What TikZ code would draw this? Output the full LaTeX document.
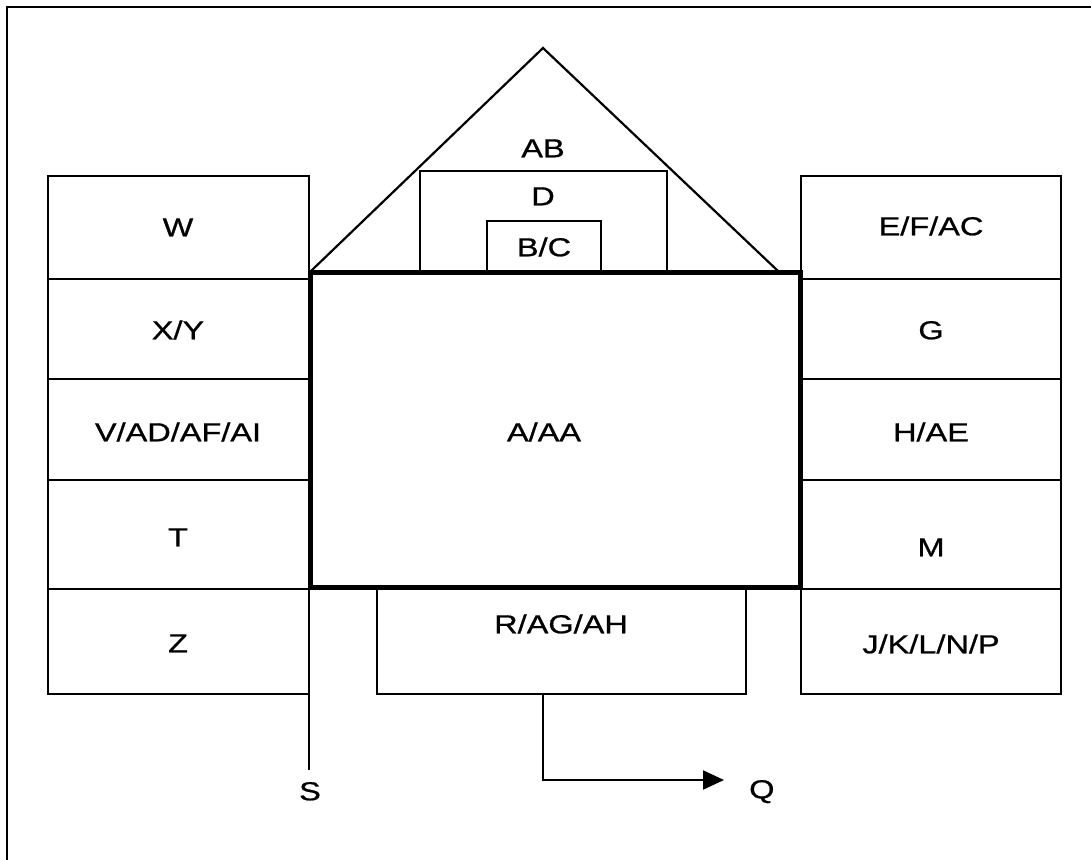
\documentclass[tikz,border=0pt]{standalone}
\usepackage{fontspec}
\setmainfont{Liberation Sans}[FakeStretch=1.25, FakeBold=0.8]
\usetikzlibrary{arrows.meta,calc}

\begin{document}
\begin{tikzpicture}[x=1pt, y=-1pt,
    box/.style={draw, line width=2.2pt},
    thickbox/.style={draw, line width=5pt},
    lbl/.style={font=\fontsize{26}{30}\selectfont, inner sep=0pt, text height=18.5pt, text depth=0pt}]
    \useasboundingbox(0,0)rectangle(1091,859);

    % frame
    \path[draw, line width=2.6pt](7,870)to(7,7)to(1100,7);

    % left column
    \path[box](48,176)rectangle(309,279);
    \path[box](48,279)rectangle(309,379);
    \path[box](48,379)rectangle(309,480);
    \path[box](48,480)rectangle(309,589);
    \path[box](48,589)rectangle(309,694);
    \node[lbl](W)at(178,227){W};
    \node[lbl](XY)at(178,330){X/Y};
    \node[lbl](VAD)at(178,432){V/AD/AF/AI};
    \node[lbl](T)at(178,537){T};
    \node[lbl](Z)at(178,643){Z};

    % right column
    \path[box](801,176)rectangle(1061,279);
    \path[box](801,279)rectangle(1061,379);
    \path[box](801,379)rectangle(1061,480);
    \path[box](801,480)rectangle(1061,589);
    \path[box](801,589)rectangle(1061,694);
    \node[lbl](EFAC)at(931,226){E/F/AC};
    \node[lbl](G)at(931,330){G};
    \node[lbl](HAE)at(931,432){H/AE};
    \node[lbl](M)at(931,547){M};
    \node[lbl](JKL)at(931,644){J/K/L/N/P};

    % roof
    \coordinate(RL)at(311,271);
    \coordinate(RT)at(543,48);
    \coordinate(RR)at(778,271);
    \path[draw, line width=2.2pt](RL)to(RT)to(RR);
    \node[lbl](AB)at(543,148){AB};
    \path[box](420,171)rectangle(667,272);
    \node[lbl](D)at(543,196){D};
    \path[box](487,221)rectangle(601,272);
    \node[lbl](BC)at(544,247){B/C};

    % bottom box
    \path[box](377,589)rectangle(746,694);
    \node[lbl](RAG)at(561,624){R/AG/AH};

    % main box
    \path[thickbox](310,272)rectangle(800,587);
    \node[lbl](AAA)at(544,432){A/AA};

    % S
    \coordinate(Stop)at(309,589);
    \coordinate(Send)at(309,770);
    \path[draw, line width=2.2pt](Stop)to(Send);
    \node[lbl](S)at(310,791){S};

    % Q
    \coordinate(Rout)at(543,694);
    \coordinate(Qbend)at(543,780);
    \coordinate(Qtip)at(724,780);
    \path[draw, line width=2.2pt, -{Triangle[length=21pt, width=19pt]}](Rout)to(Qbend)to(Qtip);
    \node[lbl, anchor=west](Q)at(749,789){Q};
\end{tikzpicture}
\end{document}
